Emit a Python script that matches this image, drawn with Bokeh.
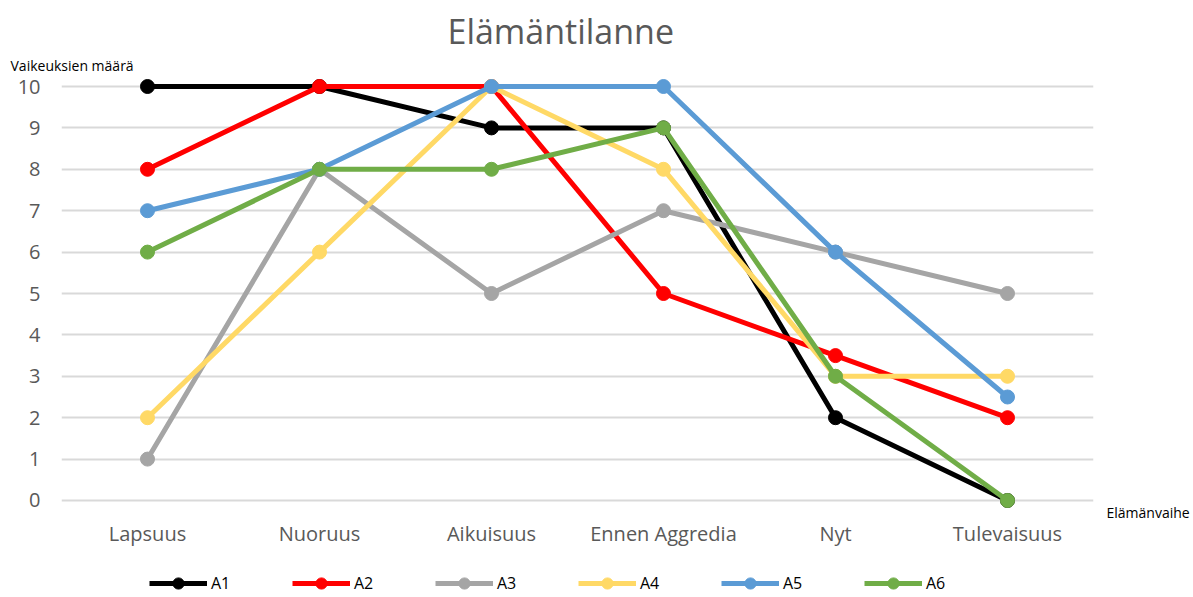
from bokeh.plotting import figure
from bokeh.models import Legend, LegendItem, FixedTicker, Range1d, Title, LinearAxis
from bokeh.layouts import column
from bokeh.embed import file_html
from bokeh.resources import INLINE

categories = ["Lapsuus", "Nuoruus", "Aikuisuus", "Ennen Aggredia", "Nyt", "Tulevaisuus"]
series_names = ["A1", "A2", "A3", "A4", "A5", "A6"]
A1 = [10, 10, 9, 9, 2, 0]
A2 = [8, 10, 10, 5, 3.5, 2]
A3 = [1, 8, 5, 7, 6, 5]
A4 = [2, 6, 10, 8, 3, 3]
A5 = [7, 8, 10, 10, 6, 2.5]
A6 = [6, 8, 8, 9, 3, 0]
y_ticks = list(range(0, 11))
colors = ["#000000", "#FF0000", "#A5A5A5", "#FFD966", "#5B9BD5", "#70AD47"]
FONT = "Open Sans"
series = [A1, A2, A3, A4, A5, A6]

W = 1193
H_MAIN, H_LEG = 569, 28
left, right, top, bottom = 61, 100, 74, 57

p = figure(width=W, height=H_MAIN, x_range=categories, y_range=Range1d(-0.29, 10.29),
           output_backend="svg", toolbar_location=None, title=None,
           min_border_left=left, min_border_right=right,
           min_border_top=top, min_border_bottom=bottom)
p.outline_line_color = None
p.background_fill_color = "white"
p.border_fill_color = "white"

p.xgrid.grid_line_color = None
p.ygrid.grid_line_color = "#D9D9D9"
p.ygrid.grid_line_width = 2
p.yaxis.ticker = FixedTicker(ticks=y_ticks)
for ax in (p.xaxis[0], p.yaxis[0]):
    ax.axis_line_color = None
    ax.major_tick_line_color = None
    ax.minor_tick_line_color = None
    ax.major_tick_out = 0
    ax.major_tick_in = 0
    ax.major_label_text_font = FONT
    ax.major_label_text_font_size = "20px"
    ax.major_label_text_color = "#595959"
p.yaxis.major_label_standoff = 21
p.xaxis.major_label_standoff = 7

# right-hand axis used only for the horizontal "Elämänvaihe" label
rax = LinearAxis(ticker=FixedTicker(ticks=[]), axis_line_color=None,
                 major_tick_line_color=None, minor_tick_line_color=None,
                 major_tick_out=0, major_tick_in=0,
                 axis_label="Elämänvaihe", axis_label_orientation="horizontal",
                 axis_label_align="start", axis_label_standoff=13,
                 axis_label_text_font=FONT, axis_label_text_font_size="14px",
                 axis_label_text_font_style="normal", axis_label_text_color="#000000")
p.add_layout(rax, "right")

for vals, c in zip(series, colors):
    p.line(categories, vals, line_color=c, line_width=5)
    p.scatter(categories, vals, size=14, fill_color=c, line_color=c)

p.add_layout(Title(text="Vaikeuksien määrä", align="left", offset=-51, standoff=0,
                   text_font=FONT, text_font_size="14px", text_font_style="normal",
                   text_color="#000000"), "above")
p.add_layout(Title(text="Elämäntilanne", align="left", offset=386, standoff=0,
                   text_font=FONT, text_font_size="34px", text_font_style="normal",
                   text_color="#595959"), "above")

# legend strip: same series, drawn outside its visible range, only the legend shows
pl = figure(width=W, height=H_LEG, x_range=categories, y_range=Range1d(100, 101),
            output_backend="svg", toolbar_location=None, title=None,
            x_axis_type=None, y_axis_type=None,
            min_border_left=0, min_border_right=0, min_border_top=0, min_border_bottom=0)
pl.outline_line_color = None
pl.xgrid.grid_line_color = None
pl.ygrid.grid_line_color = None
items = []
for name, vals, c in zip(series_names, series, colors):
    r1 = pl.line(categories, vals, line_color=c, line_width=5)
    r2 = pl.scatter(categories, vals, size=14, fill_color=c, line_color=c)
    items.append(LegendItem(label=name, renderers=[r1, r2]))
legend = Legend(items=items, orientation="horizontal", location=(88, 0),
                glyph_width=58, glyph_height=28, label_standoff=4,
                label_width=61, spacing=20, padding=0, margin=0,
                border_line_color=None, background_fill_alpha=0,
                label_text_font=FONT, label_text_font_size="16px",
                label_text_color="#000000")
pl.add_layout(legend, "center")

layout = column(p, pl, spacing=0)
open("out.html", "w").write(file_html(layout, INLINE))
